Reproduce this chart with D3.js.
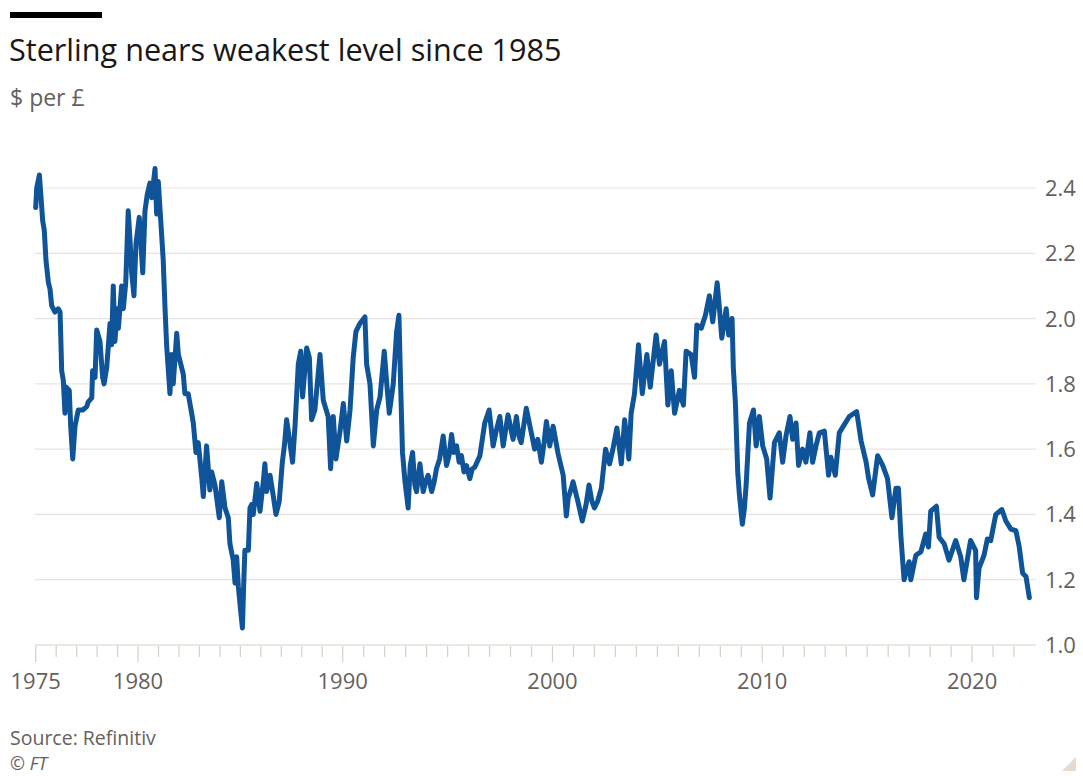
<!DOCTYPE html>
<html>
<head>
<meta charset="utf-8">
<script src="https://cdn.jsdelivr.net/npm/d3@7"></script>
<style>
  body { margin: 0; background: #fff; }
  svg { display: block; font-family: "Open Sans", "Noto Sans", sans-serif; }
</style>
</head>
<body>
<div id="chart"></div>
<script>
// $ per £ (decimal year, rate)
const years = [
  1975.00, 1975.05, 1975.18, 1975.25, 1975.34, 1975.42, 1975.50, 1975.62, 1975.70, 1975.78, 1975.94,
  1976.10, 1976.19, 1976.22, 1976.27, 1976.35, 1976.43, 1976.49, 1976.64, 1976.71, 1976.81, 1976.92,
  1977.08, 1977.30, 1977.49, 1977.57, 1977.74, 1977.78, 1977.90, 1977.98,
  1978.14, 1978.27, 1978.34, 1978.47, 1978.63, 1978.71, 1978.79, 1978.87, 1978.99,
  1979.04, 1979.20, 1979.28, 1979.40, 1979.52, 1979.60, 1979.69, 1979.80, 1979.90,
  1980.06, 1980.23, 1980.34, 1980.45, 1980.58, 1980.67, 1980.83, 1980.91, 1980.99,
  1981.07, 1981.23, 1981.32, 1981.40, 1981.56, 1981.64, 1981.72, 1981.89, 1981.97,
  1982.21, 1982.29, 1982.45, 1982.62, 1982.70, 1982.83, 1982.94,
  1983.11, 1983.19, 1983.35, 1983.51, 1983.60, 1983.76, 1983.97,
  1984.09, 1984.25, 1984.41, 1984.49, 1984.65, 1984.74, 1984.82, 1984.90,
  1985.01, 1985.10, 1985.16, 1985.22, 1985.39, 1985.47, 1985.55, 1985.63, 1985.80, 1985.96,
  1986.12, 1986.20, 1986.28, 1986.45, 1986.60, 1986.74, 1986.90,
  1987.05, 1987.15, 1987.26, 1987.42, 1987.55, 1987.67, 1987.83, 1987.95,
  1988.04, 1988.24, 1988.37, 1988.48, 1988.64, 1988.89,
  1989.05, 1989.29, 1989.41, 1989.54, 1989.67, 1989.87,
  1990.03, 1990.19, 1990.35, 1990.50, 1990.63, 1990.82,
  1991.06, 1991.14, 1991.30, 1991.46, 1991.62, 1991.78, 1991.98,
  1992.10, 1992.22, 1992.41, 1992.57, 1992.68, 1992.76, 1992.85, 1992.97,
  1993.12, 1993.22, 1993.33, 1993.44, 1993.52, 1993.68, 1993.84, 1993.95,
  1994.07, 1994.24, 1994.36, 1994.47, 1994.62, 1994.79, 1994.95,
  1995.07, 1995.19, 1995.30, 1995.43, 1995.55, 1995.66, 1995.78, 1995.90,
  1996.06, 1996.18, 1996.30, 1996.54, 1996.77, 1996.98,
  1997.17, 1997.33, 1997.49, 1997.65, 1997.88,
  1998.12, 1998.28, 1998.40, 1998.51, 1998.75, 1998.99,
  1999.15, 1999.30, 1999.47, 1999.60, 1999.71, 1999.87,
  2000.03, 2000.27, 2000.40, 2000.51, 2000.66, 2000.75, 2000.90, 2000.98,
  2001.21, 2001.42, 2001.60, 2001.74, 2001.88,
  2002.00, 2002.15, 2002.33, 2002.53, 2002.72, 2002.88,
  2003.07, 2003.28, 2003.44, 2003.64, 2003.75, 2003.91,
  2004.10, 2004.28, 2004.50, 2004.66, 2004.94,
  2005.10, 2005.34, 2005.50, 2005.66, 2005.82,
  2006.05, 2006.24, 2006.37, 2006.61, 2006.77, 2006.88,
  2007.09, 2007.29, 2007.48, 2007.64, 2007.85, 2007.96,
  2008.07, 2008.28, 2008.40, 2008.56, 2008.62, 2008.72, 2008.83, 2008.91,
  2009.05, 2009.15, 2009.23, 2009.39, 2009.58, 2009.71, 2009.86,
  2010.02, 2010.21, 2010.37, 2010.58, 2010.81, 2010.97,
  2011.13, 2011.32, 2011.45, 2011.61, 2011.73, 2011.92,
  2012.08, 2012.27, 2012.40, 2012.56, 2012.72, 2012.96,
  2013.16, 2013.27, 2013.48, 2013.67, 2013.91,
  2014.15, 2014.50, 2014.71, 2014.95,
  2015.07, 2015.26, 2015.50, 2015.74, 2015.97,
  2016.18, 2016.37, 2016.49, 2016.61, 2016.76,
  2017.00, 2017.08, 2017.32, 2017.56, 2017.79, 2017.92,
  2018.03, 2018.30, 2018.43, 2018.67, 2018.90,
  2019.22, 2019.46, 2019.61, 2019.93,
  2020.17, 2020.21, 2020.33, 2020.57, 2020.73, 2020.89,
  2021.13, 2021.42, 2021.61, 2021.85,
  2022.09, 2022.25, 2022.41, 2022.57, 2022.73
];

const rates = [
  2.34, 2.40, 2.44, 2.38, 2.30, 2.27, 2.18, 2.11, 2.09, 2.04, 2.02,
  2.03, 2.02, 1.955, 1.84, 1.81, 1.71, 1.79, 1.78, 1.67, 1.57, 1.67,
  1.72, 1.72, 1.73, 1.745, 1.757, 1.84, 1.82, 1.965,
  1.93, 1.82, 1.80, 1.85, 1.985, 1.92, 2.10, 1.93, 2.03,
  1.97, 2.10, 2.03, 2.11, 2.33, 2.25, 2.14, 2.07, 2.23,
  2.31, 2.14, 2.33, 2.38, 2.415, 2.37, 2.46, 2.32, 2.42,
  2.34, 2.18, 2.03, 1.915, 1.77, 1.89, 1.80, 1.955, 1.89,
  1.83, 1.77, 1.77, 1.71, 1.68, 1.59, 1.62,
  1.515, 1.455, 1.61, 1.475, 1.53, 1.49, 1.39,
  1.50, 1.42, 1.39, 1.31, 1.26, 1.19, 1.27, 1.18,
  1.107, 1.052, 1.18, 1.29, 1.29, 1.42, 1.43, 1.40, 1.495, 1.41,
  1.50, 1.555, 1.47, 1.52, 1.46, 1.40, 1.44,
  1.56, 1.61, 1.69, 1.62, 1.56, 1.67, 1.86, 1.90,
  1.76, 1.91, 1.88, 1.69, 1.72, 1.89,
  1.75, 1.70, 1.54, 1.70, 1.57, 1.655,
  1.74, 1.625, 1.72, 1.88, 1.96, 1.985,
  2.005, 1.86, 1.80, 1.61, 1.72, 1.76, 1.90,
  1.80, 1.71, 1.80, 1.96, 2.01, 1.80, 1.59, 1.50,
  1.42, 1.55, 1.59, 1.49, 1.47, 1.555, 1.47, 1.50,
  1.52, 1.47, 1.50, 1.54, 1.57, 1.64, 1.55,
  1.58, 1.645, 1.59, 1.61, 1.56, 1.58, 1.53, 1.55,
  1.51, 1.54, 1.545, 1.58, 1.68, 1.72,
  1.61, 1.66, 1.70, 1.61, 1.705,
  1.63, 1.70, 1.64, 1.62, 1.725, 1.65,
  1.60, 1.63, 1.56, 1.62, 1.685, 1.61,
  1.67, 1.585, 1.55, 1.52, 1.395, 1.45, 1.48, 1.50,
  1.44, 1.38, 1.43, 1.49, 1.44,
  1.42, 1.44, 1.48, 1.60, 1.555, 1.60,
  1.665, 1.555, 1.69, 1.57, 1.71, 1.77,
  1.92, 1.77, 1.89, 1.79, 1.95,
  1.86, 1.93, 1.735, 1.84, 1.71,
  1.78, 1.735, 1.90, 1.89, 1.82, 1.98,
  1.97, 2.01, 2.07, 1.99, 2.11, 2.03,
  1.94, 2.03, 1.95, 2.00, 1.85, 1.74, 1.53, 1.46,
  1.37, 1.42, 1.49, 1.68, 1.72, 1.61, 1.70,
  1.61, 1.57, 1.45, 1.62, 1.65, 1.56,
  1.64, 1.70, 1.63, 1.68, 1.55, 1.60,
  1.56, 1.65, 1.56, 1.61, 1.65, 1.655,
  1.52, 1.575, 1.52, 1.65, 1.675,
  1.70, 1.715, 1.625, 1.56,
  1.51, 1.46, 1.58, 1.55, 1.51,
  1.39, 1.48, 1.48, 1.33, 1.20,
  1.255, 1.20, 1.275, 1.285, 1.34, 1.30,
  1.41, 1.425, 1.33, 1.31, 1.26,
  1.32, 1.27, 1.20, 1.32,
  1.29, 1.145, 1.235, 1.275, 1.325, 1.32,
  1.40, 1.415, 1.38, 1.355,
  1.35, 1.30, 1.22, 1.21, 1.145
];

const yTicks = [1.0, 1.2, 1.4, 1.6, 1.8, 2.0, 2.2, 2.4];
const yearTicks = d3.range(1975, 2023);
const labelYears = [1975, 1980, 1990, 2000, 2010, 2020];

const width = 1083;
const height = 776;

const svg = d3.select('#chart')
  .append('svg')
  .attr('width', width)
  .attr('height', height);

// the source axis runs slightly tighter before 1990
const x = d3.scaleLinear()
  .domain([1975, 1990, 2023])
  .range([35.7, 342.7, 1035]);

const y = d3.scaleLinear()
  .domain([1.0, 2.4])
  .range([645, 188]);

// header
svg.append('rect')
  .attr('x', 10).attr('y', 12)
  .attr('width', 92).attr('height', 6)
  .attr('fill', '#000');

svg.append('text')
  .attr('x', 9).attr('y', 61)
  .attr('font-size', 30.6)
  .attr('fill', '#1a1817')
  .text('Sterling nears weakest level since 1985');

svg.append('text')
  .attr('x', 10).attr('y', 106)
  .attr('font-size', 23)
  .attr('fill', '#66605c')
  .text('$ per £');

// gridlines + right labels
svg.append('g')
  .selectAll('line')
  .data(yTicks)
  .join('line')
  .attr('x1', 35).attr('x2', 1036)
  .attr('y1', d => y(d)).attr('y2', d => y(d))
  .attr('stroke', d => d === 1.0 ? '#d8cfc7' : '#e9e3de')
  .attr('stroke-width', 1.2);

svg.append('g')
  .selectAll('text')
  .data(yTicks)
  .join('text')
  .attr('x', 1045)
  .attr('y', d => y(d) + 8)
  .attr('font-size', 22)
  .attr('fill', '#66605c')
  .text(d => d3.format('.1f')(d));

// x axis ticks
svg.append('g')
  .selectAll('line')
  .data(yearTicks)
  .join('line')
  .attr('x1', d => x(d)).attr('x2', d => x(d))
  .attr('y1', 646)
  .attr('y2', d => labelYears.includes(d) ? 662 : 657)
  .attr('stroke', '#d8cfc7')
  .attr('stroke-width', 1.2);

svg.append('g')
  .selectAll('text')
  .data(labelYears)
  .join('text')
  .attr('x', d => x(d))
  .attr('y', 689)
  .attr('text-anchor', 'middle')
  .attr('font-size', 22)
  .attr('fill', '#66605c')
  .text(d => d);

// the line
const line = d3.line()
  .x(d => x(d[0]))
  .y(d => y(d[1]));

svg.append('path')
  .datum(d3.zip(years, rates))
  .attr('d', line)
  .attr('fill', 'none')
  .attr('stroke', '#0f5499')
  .attr('stroke-width', 5)
  .attr('stroke-linejoin', 'round')
  .attr('stroke-linecap', 'round');

// footer
svg.append('text')
  .attr('x', 10).attr('y', 745)
  .attr('font-size', 19.5)
  .attr('fill', '#66605c')
  .text('Source: Refinitiv');

svg.append('text')
  .attr('x', 10).attr('y', 770)
  .attr('font-size', 18)
  .attr('font-style', 'italic')
  .attr('fill', '#66605c')
  .text('© FT');

svg.append('path')
  .attr('d', 'M1076,757 L1076,771 L1062,771 Z')
  .attr('fill', '#e6dad0');
</script>
</body>
</html>
